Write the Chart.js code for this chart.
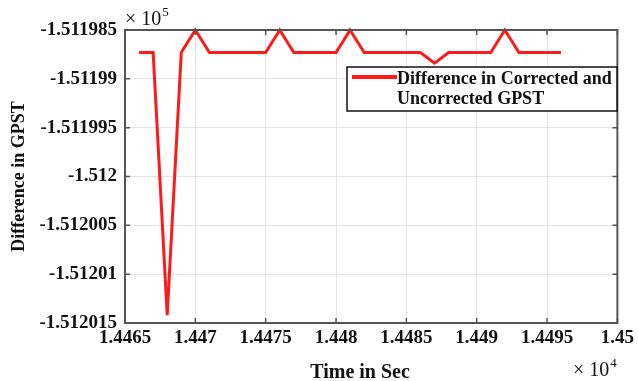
<!DOCTYPE html>
<html>
<head>
<meta charset="utf-8">
<script src="https://cdn.jsdelivr.net/npm/chart.js@4.4.1/dist/chart.umd.min.js"></script>
<style>
  html, body { margin: 0; padding: 0; background: #fff; }
  canvas { display: block; }
</style>
</head>
<body>
<canvas id="gpstChart" width="638" height="381"></canvas>
<script>
// time in seconds (axis shows x10^4)
const timeSec = [14466, 14467, 14468, 14469, 14470, 14471, 14472, 14473, 14474, 14475,
                 14476, 14477, 14478, 14479, 14480, 14481, 14482, 14483, 14484, 14485,
                 14486, 14487, 14488, 14489, 14490, 14491, 14492, 14493, 14494, 14495, 14496];
// difference in GPST (axis shows x10^5)
const gpstDiff = [-151198.73, -151198.73, -151201.42, -151198.73, -151198.5, -151198.73, -151198.73, -151198.73, -151198.73, -151198.73,
                  -151198.5, -151198.73, -151198.73, -151198.73, -151198.73, -151198.5, -151198.73, -151198.73, -151198.73, -151198.73,
                  -151198.73, -151198.84, -151198.73, -151198.73, -151198.73, -151198.73, -151198.5, -151198.73, -151198.73, -151198.73, -151198.73];
const xTicks = [14465, 14470, 14475, 14480, 14485, 14490, 14495, 14500];
const yTicks = [-151201.5, -151201, -151200.5, -151200, -151199.5, -151199, -151198.5];
const seriesLabel = ['Difference in Corrected and', 'Uncorrected GPST'];

const serif = '"Liberation Serif", "Times New Roman", serif';
const frameColor = '#555';

// frame, inside ticks, exponents, x title and the boxed legend
const matlabLook = {
    id: 'matlabLook',
    afterDraw(chart) {
        const ctx = chart.ctx;
        const area = chart.chartArea;
        const xs = chart.scales.x;
        const ys = chart.scales.y;
        ctx.save();

        // inside tick marks
        ctx.strokeStyle = frameColor;
        ctx.lineWidth = 1.5;
        ctx.beginPath();
        xTicks.forEach(t => {
            const px = xs.getPixelForValue(t);
            ctx.moveTo(px, area.bottom); ctx.lineTo(px, area.bottom - 5);
            ctx.moveTo(px, area.top); ctx.lineTo(px, area.top + 5);
        });
        yTicks.forEach(t => {
            const py = ys.getPixelForValue(t);
            ctx.moveTo(area.left, py); ctx.lineTo(area.left + 5, py);
            ctx.moveTo(area.right, py); ctx.lineTo(area.right - 5, py);
        });
        ctx.stroke();

        // box
        ctx.lineWidth = 2;
        ctx.strokeRect(area.left, area.top, area.right - area.left, area.bottom - area.top);

        // exponent labels
        ctx.fillStyle = '#111';
        ctx.textBaseline = 'alphabetic';
        ctx.textAlign = 'left';
        const drawExp = (x, y, exp) => {
            ctx.font = '20px ' + serif;
            ctx.fillText('\u00d7 10', x, y);
            const w = ctx.measureText('\u00d7 10').width;
            ctx.font = '13px ' + serif;
            ctx.fillText(exp, x + w + 1, y - 9);
        };
        drawExp(area.left, 25, '5');
        drawExp(573, 376, '4');

        // x axis title
        ctx.font = 'bold 20px ' + serif;
        ctx.textAlign = 'center';
        ctx.fillText('Time in Sec', 360, 378);

        // legend
        const ds = chart.data.datasets[0];
        ctx.fillStyle = '#fff';
        ctx.fillRect(347, 67, 270, 44);
        ctx.strokeStyle = '#111';
        ctx.lineWidth = 1.5;
        ctx.strokeRect(347, 67, 270, 44);
        ctx.strokeStyle = ds.borderColor;
        ctx.lineWidth = 4;
        ctx.beginPath();
        ctx.moveTo(352, 77); ctx.lineTo(397, 77);
        ctx.stroke();
        ctx.fillStyle = '#111';
        ctx.textAlign = 'left';
        ctx.font = 'bold 18px ' + serif;
        ctx.fillText(seriesLabel[0], 397, 84);
        ctx.fillText(seriesLabel[1], 397, 104);

        ctx.restore();
    }
};

new Chart(document.getElementById('gpstChart').getContext('2d'), {
    type: 'line',
    data: {
        datasets: [{
            label: seriesLabel.join(' '),
            data: timeSec.map((t, i) => ({ x: t, y: gpstDiff[i] })),
            borderColor: '#ff1a1a',
            borderWidth: 3,
            pointRadius: 0,
            tension: 0,
            clip: false
        }]
    },
    options: {
        responsive: false,
        animation: false,
        devicePixelRatio: 1,
        layout: { padding: { top: 30, right: 4, left: 0, bottom: 0 } },
        plugins: {
            legend: { display: false },
            tooltip: { enabled: false }
        },
        scales: {
            x: {
                type: 'linear',
                min: 14465,
                max: 14500,
                afterBuildTicks: scale => { scale.ticks = xTicks.map(v => ({ value: v })); },
                afterFit: scale => { scale.height = 58; },
                grid: { color: '#e4e4e4', lineWidth: 1, drawTicks: false },
                border: { display: false },
                ticks: {
                    padding: 4,
                    color: '#111',
                    font: { family: serif, size: 19, weight: 'bold' },
                    maxRotation: 0,
                    callback: v => String(+(v / 1e4).toFixed(4))
                }
            },
            y: {
                min: -151201.5,
                max: -151198.5,
                afterBuildTicks: scale => { scale.ticks = yTicks.map(v => ({ value: v })); },
                afterFit: scale => { scale.width = 125; },
                grid: { color: '#e4e4e4', lineWidth: 1, drawTicks: false },
                border: { display: false },
                ticks: {
                    padding: 8,
                    color: '#111',
                    font: { family: serif, size: 19, weight: 'bold' },
                    callback: v => String(+(v / 1e5).toFixed(7))
                },
                title: {
                    display: true,
                    text: 'Difference in GPST',
                    color: '#111',
                    font: { family: serif, size: 18, weight: 'bold' },
                    padding: { top: 9, bottom: 0 }
                }
            }
        }
    },
    plugins: [matlabLook]
});
</script>
</body>
</html>
